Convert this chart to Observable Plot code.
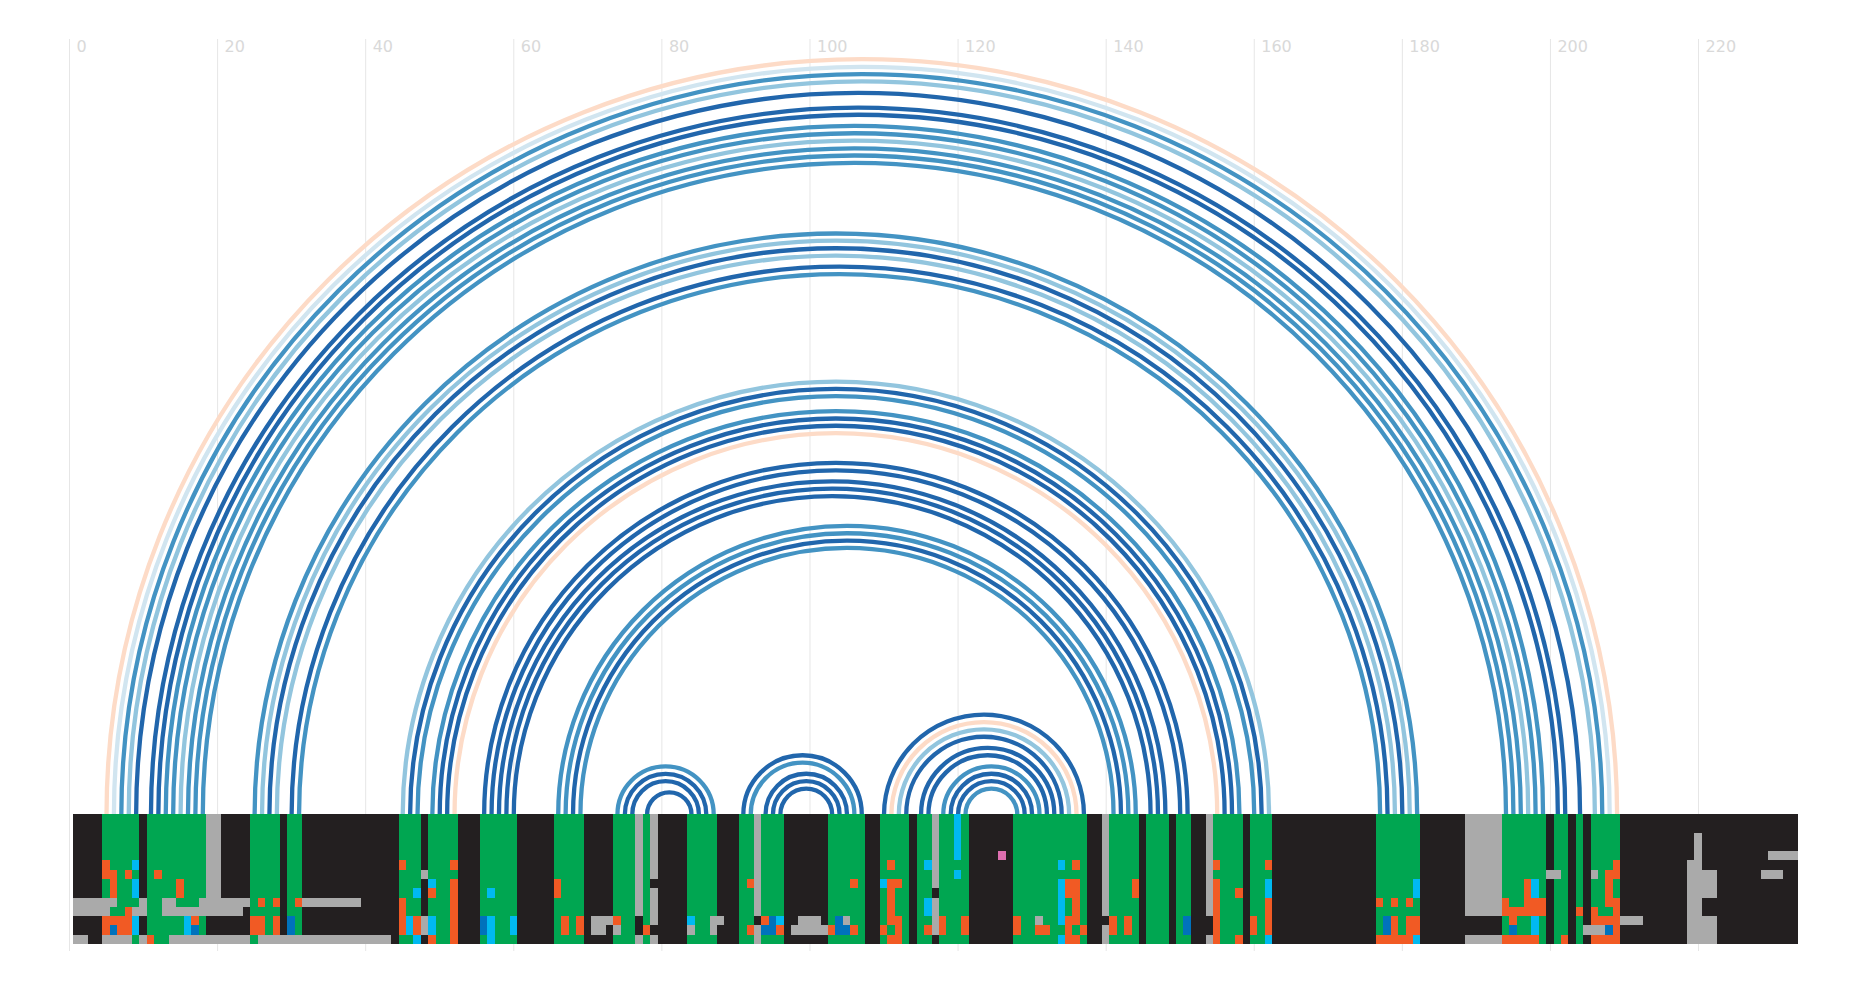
<!DOCTYPE html>
<html>
<head>
<meta charset="utf-8">
<script src="https://cdn.jsdelivr.net/npm/d3@7"></script>
<script src="https://cdn.jsdelivr.net/npm/@observablehq/plot@0.6"></script>
<style>
  html, body { margin: 0; padding: 0; background: #ffffff; overflow: hidden; }
  svg { display: block; }
</style>
</head>
<body>
<div id="chart"></div>
<script>
// ---- tick labels of the top axis
const xTicks = [0, 20, 40, 60, 80, 100, 120, 140, 160, 180, 200, 220];

// ---- heatmap: 14 rows x 233 positions (K black, G green, g gray, O orange, C cyan, B blue, P pink)
const heatRows = [
  "KKKKGGGGGK"+"GGGGGGGGgg"+"KKKKGGGGKG"+"GKKKKKKKKK"+"KKKKGGGKGG"+"GGKKKGGGGG"+"KKKKKGGGGK"+"KKKGGGgGgK"+"KKKGGGGKKK"+"GGgGGGKKKK"+"KKGGGGGKKG"+"GGGKGGgGGC"+"GKKKKKKGGG"+"GGGGGGGKKg"+"GGGGKGGGKG"+"GKKgGGGGKG"+"GGKKKKKKKK"+"KKKKKKGGGG"+"GGKKKKKKgg"+"gggGGGGGGK"+"GGKGKGGGGK"+"KKKKKKKKKK"+"KKKKKKKKKK"+"KKK",
  "KKKKGGGGGK"+"GGGGGGGGgg"+"KKKKGGGGKG"+"GKKKKKKKKK"+"KKKKGGGKGG"+"GGKKKGGGGG"+"KKKKKGGGGK"+"KKKGGGgGgK"+"KKKGGGGKKK"+"GGgGGGKKKK"+"KKGGGGGKKG"+"GGGKGGgGGC"+"GKKKKKKGGG"+"GGGGGGGKKg"+"GGGGKGGGKG"+"GKKgGGGGKG"+"GGKKKKKKKK"+"KKKKKKGGGG"+"GGKKKKKKgg"+"gggGGGGGGK"+"GGKGKGGGGK"+"KKKKKKKKKK"+"KKKKKKKKKK"+"KKK",
  "KKKKGGGGGK"+"GGGGGGGGgg"+"KKKKGGGGKG"+"GKKKKKKKKK"+"KKKKGGGKGG"+"GGKKKGGGGG"+"KKKKKGGGGK"+"KKKGGGgGgK"+"KKKGGGGKKK"+"GGgGGGKKKK"+"KKGGGGGKKG"+"GGGKGGgGGC"+"GKKKKKKGGG"+"GGGGGGGKKg"+"GGGGKGGGKG"+"GKKgGGGGKG"+"GGKKKKKKKK"+"KKKKKKGGGG"+"GGKKKKKKgg"+"gggGGGGGGK"+"GGKGKGGGGK"+"KKKKKKKKKg"+"KKKKKKKKKK"+"KKK",
  "KKKKGGGGGK"+"GGGGGGGGgg"+"KKKKGGGGKG"+"GKKKKKKKKK"+"KKKKGGGKGG"+"GGKKKGGGGG"+"KKKKKGGGGK"+"KKKGGGgGgK"+"KKKGGGGKKK"+"GGgGGGKKKK"+"KKGGGGGKKG"+"GGGKGGgGGC"+"GKKKKKKGGG"+"GGGGGGGKKg"+"GGGGKGGGKG"+"GKKgGGGGKG"+"GGKKKKKKKK"+"KKKKKKGGGG"+"GGKKKKKKgg"+"gggGGGGGGK"+"GGKGKGGGGK"+"KKKKKKKKKg"+"KKKKKKKKKK"+"KKK",
  "KKKKGGGGGK"+"GGGGGGGGgg"+"KKKKGGGGKG"+"GKKKKKKKKK"+"KKKKGGGKGG"+"GGKKKGGGGG"+"KKKKKGGGGK"+"KKKGGGgGgK"+"KKKGGGGKKK"+"GGgGGGKKKK"+"KKGGGGGKKG"+"GGGKGGgGGC"+"GKKKKPKGGG"+"GGGGGGGKKg"+"GGGGKGGGKG"+"GKKgGGGGKG"+"GGKKKKKKKK"+"KKKKKKGGGG"+"GGKKKKKKgg"+"gggGGGGGGK"+"GGKGKGGGGK"+"KKKKKKKKKg"+"KKKKKKKKKg"+"ggg",
  "KKKKOGGGCK"+"GGGGGGGGgg"+"KKKKGGGGKG"+"GKKKKKKKKK"+"KKKKOGGKGG"+"GOKKKGGGGG"+"KKKKKGGGGK"+"KKKGGGgGgK"+"KKKGGGGKKK"+"GGgGGGKKKK"+"KKGGGGGKKG"+"OGGKGCgGGG"+"GKKKKKKGGG"+"GGGCGOGKKg"+"GGGGKGGGKG"+"GKKgOGGGKG"+"GOKKKKKKKK"+"KKKKKKGGGG"+"GGKKKKKKgg"+"gggGGGGGGK"+"GGKGKGGGOK"+"KKKKKKKKgg"+"KKKKKKKKKK"+"KKK",
  "KKKKOOGOGK"+"GOGGGGGGgg"+"KKKKGGGGKG"+"GKKKKKKKKK"+"KKKKGGGgGG"+"GGKKKGGGGG"+"KKKKKGGGGK"+"KKKGGGgGgK"+"KKKGGGGKKK"+"GGgGGGKKKK"+"KKGGGGGKKG"+"GGGKGGgGGC"+"GKKKKKKGGG"+"GGGGGGGKKg"+"GGGGKGGGKG"+"GKKgGGGGKG"+"GGKKKKKKKK"+"KKKKKKGGGG"+"GGKKKKKKgg"+"gggGGGGGGg"+"gGKGKgGOOK"+"KKKKKKKKgg"+"ggKKKKKKgg"+"gKK",
  "KKKKGOGGCK"+"GGGGOGGGgg"+"KKKKGGGGKG"+"GKKKKKKKKK"+"KKKKGGGKCG"+"GOKKKGGGGG"+"KKKKKOGGGK"+"KKKGGGgGKK"+"KKKGGGGKKK"+"GOgGGGKKKK"+"KKGGGOGKKC"+"OOGKGGgGGG"+"GKKKKKKGGG"+"GGGCOOGKKg"+"GGGOKGGGKG"+"GKKgOGGGKG"+"GCKKKKKKKK"+"KKKKKKGGGG"+"GCKKKKKKgg"+"gggGGGOCGK"+"GGKGKGGOGK"+"KKKKKKKKgg"+"ggKKKKKKKK"+"KKK",
  "KKKKGOGGCK"+"GGGGOGGGgg"+"KKKKGGGGKG"+"GKKKKKKKKK"+"KKKKGGCKOG"+"GOKKKGCGGG"+"KKKKKOGGGK"+"KKKGGGgGgK"+"KKKGGGGKKK"+"GGgGGGKKKK"+"KKGGGGGKKG"+"OGGKGGKGGG"+"GKKKKKKGGG"+"GGGCOOGKKg"+"GGGOKGGGKG"+"GKKgOGGOKG"+"GCKKKKKKKK"+"KKKKKKGGGG"+"GCKKKKKKgg"+"gggGGGOCGK"+"GGKGKGGOGK"+"KKKKKKKKgg"+"ggKKKKKKKK"+"KKK",
  "ggggggGGGg"+"GGggGGGggg"+"ggggGOGOKG"+"OggggggggK"+"KKKKOGGKGG"+"GOKKKGGGGG"+"KKKKKGGGGK"+"KKKGGGgGgK"+"KKKGGGGKKK"+"GGgGGGKKKK"+"KKGGGGGKKG"+"OGGKGCgGGG"+"GKKKKKKGGG"+"GGGCGOGKKg"+"GGGGKGGGKG"+"GKKgOGGGKG"+"GOKKKKKKKK"+"KKKKKKOGOG"+"OGKKKKKKgg"+"gggOGGOOOK"+"GGKGKGGOOK"+"KKKKKKKKgg"+"KKKKKKKKKK"+"KKK",
  "gggggGGOgg"+"GGgggggggg"+"gggKGGGGKG"+"GKKKKKKKKK"+"KKKKOGGKGG"+"GOKKKGGGGG"+"KKKKKGGGGK"+"KKKGGGgGgK"+"KKKGGGGKKK"+"GGgGGGKKKK"+"KKGGGGGKKG"+"OGGKGCgGGG"+"GKKKKKKGGG"+"GGGCGOGKKg"+"GGGGKGGGKG"+"GKKgOGGGKG"+"GOKKKKKKKK"+"KKKKKKGGGG"+"GGKKKKKKgg"+"gggOOOOOOK"+"GGKOKOGGOK"+"KKKKKKKKgg"+"KKKKKKKKKK"+"KKK",
  "KKKKOOOOCK"+"GGGGGCOGKK"+"KKKKOOGOKB"+"GKKKKKKKKK"+"KKKKOCOgCG"+"GOKKKBCGGC"+"KKKKKGOGOK"+"gggOGGKGgK"+"KKKCGGggKK"+"GGKOBCKKgg"+"gKGBgGGKKG"+"OOGKGGgOGG"+"OKKKKKKOGG"+"gGGCOOGKKK"+"OGOGKGGGKG"+"BKKKOGGGKO"+"GOKKKKKKKK"+"KKKKKKGBOG"+"OOKKKKKKKK"+"KKKGOGGCGK"+"GGKGKOOOOg"+"ggKKKKKKgg"+"ggKKKKKKKK"+"KKK",
  "KKKKOBOOCK"+"GGGGGCBGKK"+"KKKKOOGOKB"+"GKKKKKKKKK"+"KKKKOCOgCG"+"GOKKKBCGGC"+"KKKKKGOGOK"+"ggKgGGKOKK"+"KKKgGGgKKK"+"GOgBBOKggg"+"ggOBBOGKKO"+"GOGKGOgOGG"+"OKKKKKKOGG"+"OOGGOGOKKg"+"OGOGKGGGKG"+"BKKKOGGGKO"+"GOKKKKKKKK"+"KKKKKKGBOG"+"OOKKKKKKKK"+"KKKGBGGCGK"+"GGKGgggBOK"+"KKKKKKKKgg"+"ggKKKKKKKK"+"KKK",
  "ggKKggggGg"+"OGGggggggg"+"ggggGggggg"+"gggggggggg"+"gggKGGCKOG"+"GOKKKGCGGG"+"KKKKKGGGGK"+"KKKGGGgGgK"+"KKKGGGGKKK"+"GGgGGGKKKK"+"KKGGGGGKKG"+"OOGKGGKGGG"+"GKKKKKKGGG"+"GGGCOOGKKg"+"GGGGKGGGKG"+"GKKgOGGOKG"+"GCKKKKKKKK"+"KKKKKKOOOO"+"OCKKKKKKgg"+"gggOOOOOGK"+"GOKGKOOOOK"+"KKKKKKKKgg"+"ggKKKKKKKK"+"KKK"
];
const cellCodes  = ["K", "G", "g", "O", "C", "B", "P"];
const cellColors = ["#231f20", "#00a651", "#aaaaaa", "#f15a24", "#00b9f1", "#0072bc", "#de6fb0"];

// ---- arcs (base pairs): left position, right position, probability level 0..4
const arcLeft  = [5,6,7,8,9,11,12,13,14,15,16,17,18, 25,26,27,28,30,31, 45,46,47,49,50,51,52, 56,57,58,59,60, 66,67,68,69, 74,75,76,78, 91,92,94,95,96, 110,111,112,113,115,116,118,119,120,121];
const arcRight = [209,208,207,206,204,202,201,199,198,197,196,195,194, 182,181,180,179,178,177, 162,161,160,158,157,156,155, 151,150,148,147,146, 144,143,142,141, 87,86,85,84, 107,106,105,104,103, 137,136,135,134,133,132,131,130,129,128];
const arcLevel = [0,1,3,2,4,4,4,3,3,2,3,3,3, 3,2,4,2,4,3, 2,4,3,3,4,4,0, 4,4,4,4,4, 3,3,4,3, 3,4,4,4, 4,3,4,4,4, 4,0,2,4,4,4,3,4,4,3];
const levelColors = ["#fddbc7", "#d1e5f0", "#92c5de", "#4393c3", "#2166ac"];

// ---- tables for the marks
const cells = [];
heatRows.forEach((s, r) => {
  for (let c = 0; c < s.length; c++) {
    cells.push({pos: c + 1, row: r, fill: cellColors[cellCodes.indexOf(s[c])]});
  }
});
const arcs = arcLeft.map((a, i) => ({a, b: arcRight[i], level: arcLevel[i]}));
arcs.sort((p, q) => p.level - q.level);

const chart = Plot.plot({
  width: 1864,
  height: 988,
  marginLeft: 69,
  marginRight: 66,
  marginTop: 39,
  marginBottom: 37,
  x: {domain: [0, 233.5], axis: null},
  y: {domain: [-14, 0], range: [944, 814], axis: null},
  style: {background: "#ffffff"},
  marks: [
    Plot.gridX(xTicks, {stroke: "#e6e6e6", strokeOpacity: 1, strokeWidth: 1}),
    Plot.arrow(arcs, {
      x1: "a", x2: "b", y1: () => 0, y2: () => 0,
      bend: 90, headLength: 0,
      stroke: d => levelColors[d.level],
      strokeWidth: 4.3, strokeOpacity: 1
    }),
    Plot.rect(cells, {
      x1: d => d.pos - 0.5, x2: d => d.pos + 0.5,
      y1: d => -d.row - 1, y2: d => -d.row,
      fill: "fill", inset: 0, shapeRendering: "crispEdges"
    }),
    Plot.text(xTicks, {
      x: d => d, text: d => String(d),
      frameAnchor: "top", lineAnchor: "top", textAnchor: "start",
      dx: 7, dy: 1, fill: "#d9d9d9", fontSize: 16, fontFamily: "DejaVu Sans"
    })
  ]
});
document.getElementById("chart").appendChild(chart);
</script>
</body>
</html>
